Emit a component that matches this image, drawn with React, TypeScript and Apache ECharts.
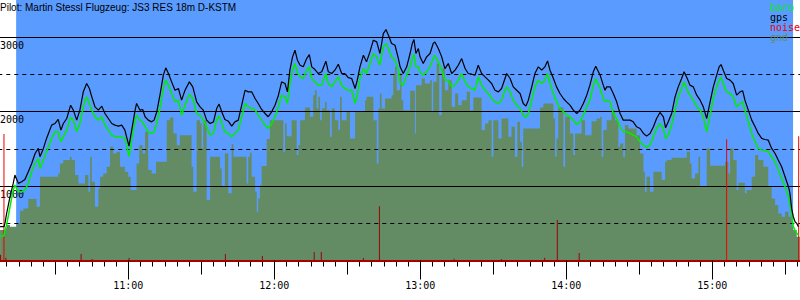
import React, { useEffect, useRef } from "react";
import * as echarts from "echarts";

// Title text
const titleText = "Pilot: Martin Stessl Flugzeug: JS3 RES 18m D-KSTM";

// Axis definition (minutes since midnight)
const axisStart = 600; // 10:00
const axisEnd = 960; // 16:00
const labelFirst = 660; // 11:00
const labelLast = 900; // 15:00
const plotStart = 613.9; // start of the blue plot background
const plotEnd = 933.2; // end of the blue plot background
const altMax = 3500;

// Flight track: time (minutes since midnight), GPS altitude, barometric altitude (m)
const flightTimes = [
  607.3, 608.9, 609.3, 610.0, 611.4, 612.7, 613.4, 614.8, 616.2, 617.5,
  618.9, 620.3, 621.7, 623.0, 623.7, 625.1, 626.4, 628.5, 629.9, 631.2,
  632.3, 633.3, 634.7, 636.3, 637.4, 638.8, 640.1, 641.5, 642.9, 644.0,
  645.0, 646.3, 647.7, 649.1, 650.4, 651.8, 653.2, 654.5, 655.9, 657.3,
  658.6, 659.3, 660.3, 661.4, 662.8, 663.4, 664.8, 665.9, 666.9, 668.2,
  669.6, 670.6, 671.7, 673.0, 674.4, 675.4, 676.5, 677.8, 679.2, 680.6,
  681.9, 683.3, 685.1, 686.5, 688.1,
  689.5, 690.8, 692.2, 693.6, 695.0, 696.3, 697.3, 698.4, 699.7, 701.1,
  702.5, 703.8, 705.2, 706.6, 708.0, 709.3, 710.7, 712.1, 713.4, 714.8,
  716.2, 717.5, 718.9, 720.3, 721.7, 723.0, 724.4, 725.4, 726.4, 727.5,
  728.5, 729.5, 730.6, 731.9, 733.3, 734.4, 735.4, 736.7, 738.1, 739.5,
  741.2, 742.2, 743.6, 744.9, 746.3, 747.7, 749.0, 750.4, 751.8, 753.2,
  754.1, 755.2, 756.6, 757.9, 759.3, 760.7, 762.1, 763.4, 764.8, 765.9,
  766.9, 768.2, 769.6, 771.0,
  771.7, 773.0, 774.4, 775.8, 776.7, 777.4, 778.2, 779.2, 779.9, 781.2,
  782.6, 784.0, 785.3, 786.0, 787.4, 788.8, 790.1, 791.5, 792.9, 794.3,
  795.6, 797.0, 798.4, 799.7, 801.1, 802.5, 803.8, 805.2, 806.6, 808.0,
  809.3, 810.7, 812.1, 813.4, 814.8, 815.5, 816.9, 818.2, 819.6, 821.0,
  822.3, 823.4, 824.4, 825.8, 827.1, 828.5, 829.9, 831.2, 832.3, 833.3,
  834.7, 836.0, 837.4, 838.8, 840.1, 841.5, 842.9, 844.3, 845.6, 847.0,
  848.4, 849.7, 851.1, 852.1,
  853.9, 855.2, 855.9, 856.6, 858.0, 859.3, 860.7, 862.1, 863.4, 864.8,
  866.2, 867.5, 868.9, 870.3, 871.7, 873.0, 874.4, 875.8, 877.1, 878.5,
  879.9, 880.8, 881.9, 883.3, 884.7, 886.0, 887.4, 888.4, 889.7, 890.8,
  892.2, 893.6, 895.0, 896.3, 897.7, 899.1, 900.4, 901.8, 902.8, 903.6,
  904.5, 905.9, 907.3, 908.6, 910.0, 911.4, 912.5, 913.4, 914.8, 916.2,
  917.6, 918.9, 920.3, 921.7, 923.0, 924.4, 925.8, 927.1, 928.5, 929.9,
  931.3, 931.9, 932.6, 933.3, 934.0, 934.7, 935.4,
];

const gpsAlt = [
  454, 454, 499, 633, 857, 1036, 1148, 1036, 1058, 1089,
  1192, 1304, 1438, 1506, 1394, 1506, 1640, 1819, 1841, 1895,
  1752, 1841, 1908, 2087, 2020, 1886, 2020, 2266, 2378, 2311,
  2199, 2065, 2020, 2074, 1975, 1908, 1841, 1819, 1805, 1819,
  1752, 1662, 1537, 1752, 2020, 2110, 2020, 2029, 1931, 1886,
  1863, 1886, 1998, 2221, 2490, 2588, 2512, 2400, 2288, 2311,
  2154, 2288, 2400, 2333, 2132,
  2065, 2020, 1886, 1841, 1863, 2042, 2101, 1998, 1895, 1872,
  1805, 1863, 1886, 2087, 2288, 2266, 2266, 2177, 2110, 2029,
  1975, 1931, 1998, 2087, 2221, 2400, 2378, 2266, 2557, 2736,
  2825, 2691, 2624, 2602, 2713, 2767, 2602, 2566, 2512, 2535,
  2678, 2535, 2512, 2557, 2637, 2512, 2512, 2458, 2445, 2311,
  2423, 2602, 2758, 2669, 2803, 2960, 2937, 2781, 3049, 3103,
  3027, 2915, 2892, 2713,
  2602, 2512, 2602, 2781, 2915, 2968, 2781, 2848, 2736, 2646,
  2736, 2781, 2915, 2937, 2848, 2736, 2579, 2646, 2512, 2557,
  2624, 2713, 2579, 2512, 2503, 2490, 2624, 2512, 2467, 2423,
  2378, 2288, 2266, 2311, 2445, 2512, 2445, 2333, 2288, 2244,
  2110, 2074, 2154, 2333, 2512, 2602, 2557, 2602, 2682, 2557,
  2445, 2333, 2244, 2177, 2132, 2087, 2020, 1975, 2020, 2110,
  2221, 2356, 2535, 2611,
  2490, 2356, 2288, 2333, 2333, 2244, 2132, 1975, 1886, 1886,
  1886, 1863, 1796, 1774, 1707, 1671, 1707, 1796, 1908, 1989,
  1931, 1783, 1863, 1975, 2199, 2333, 2445, 2535, 2445, 2356,
  2333, 2221, 2154, 2065, 1908, 2132, 2333, 2490, 2602, 2633,
  2557, 2445, 2423, 2378, 2221, 2266, 2280, 2154, 2020, 1886,
  1796, 1707, 1640, 1626, 1617, 1506, 1438, 1349, 1260, 1125,
  991, 902, 700, 588, 521, 499, 454,
];

const baroAlt = [
  329, 329, 400, 476, 723, 946, 1013, 924, 924, 946,
  1036, 1192, 1304, 1371, 1237, 1349, 1461, 1640, 1729, 1729,
  1595, 1662, 1752, 1922, 1886, 1729, 1841, 2065, 2199, 2110,
  2020, 1931, 1886, 1931, 1819, 1752, 1684, 1662, 1662, 1662,
  1640, 1550, 1394, 1617, 1886, 1953, 1886, 1863, 1796, 1729,
  1707, 1729, 1841, 2042, 2311, 2423, 2356, 2244, 2132, 2154,
  1953, 2087, 2235, 2177, 1975,
  1953, 1886, 1796, 1684, 1707, 1886, 1944, 1841, 1729, 1707,
  1662, 1707, 1752, 1931, 2110, 2065, 2042, 2020, 1953, 1886,
  1819, 1774, 1841, 1931, 2065, 2221, 2199, 2110, 2378, 2557,
  2646, 2521, 2467, 2445, 2557, 2602, 2445, 2400, 2356, 2356,
  2512, 2378, 2333, 2400, 2467, 2356, 2311, 2288, 2288, 2110,
  2221, 2445, 2579, 2512, 2646, 2781, 2736, 2624, 2870, 2915,
  2848, 2736, 2691, 2557,
  2378, 2356, 2490, 2602, 2713, 2772, 2602, 2602, 2535, 2490,
  2535, 2602, 2713, 2758, 2669, 2557, 2423, 2423, 2333, 2356,
  2423, 2512, 2400, 2333, 2311, 2288, 2467, 2356, 2288, 2244,
  2177, 2132, 2110, 2154, 2288, 2333, 2266, 2154, 2087, 2042,
  1953, 1922, 1975, 2154, 2333, 2423, 2378, 2423, 2512, 2378,
  2244, 2132, 2042, 1998, 1953, 1931, 1886, 1828, 1863, 1953,
  2065, 2154, 2356, 2445,
  2311, 2177, 2132, 2154, 2132, 1975, 1908, 1796, 1729, 1729,
  1707, 1684, 1662, 1595, 1550, 1519, 1550, 1662, 1774, 1841,
  1774, 1640, 1684, 1819, 2020, 2199, 2311, 2400, 2288, 2221,
  2154, 2065, 2020, 1931, 1729, 1953, 2177, 2333, 2423, 2458,
  2378, 2266, 2244, 2199, 2065, 2110, 2132, 2020, 1863, 1707,
  1595, 1506, 1483, 1474, 1461, 1394, 1327, 1215, 1103, 991,
  857, 745, 633, 454, 409, 365, 342,
];

// Ground elevation under the track (step profile): start time of each step, elevation (m)
const gndTimes = [
  607.3, 609.3, 610.0, 611.4, 614.1, 615.5, 616.9, 618.9, 622.3, 623.7,
  631.2, 631.9, 633.3, 636.0, 636.7, 638.1, 639.5, 642.2, 643.6, 644.3,
  645.0, 646.3, 647.7, 648.4, 649.7, 651.1, 652.5, 653.8, 655.2, 656.6,
  658.6, 660.0, 661.0, 663.4, 664.5, 665.9, 666.9, 668.2, 669.6, 671.4,
  675.8, 677.1, 678.5, 679.9, 681.2, 686.0, 686.7, 688.1,
  689.5, 690.1, 690.8, 692.2, 693.6, 697.7, 698.4, 699.7, 701.1, 702.5,
  703.2, 708.6, 709.3, 710.0, 710.7, 712.1, 712.8, 713.4, 714.1, 714.8,
  716.9, 718.2, 723.7, 724.4, 725.1, 727.1, 729.2, 729.9, 730.6, 732.6,
  734.7, 736.0, 736.7, 737.4, 738.1, 738.8, 739.5, 740.8, 741.5, 742.9,
  743.6, 744.9, 746.3, 747.0, 747.7, 749.7, 751.1, 753.2, 757.3, 757.9,
  760.7, 762.1, 762.8, 763.4, 764.1, 765.5, 768.2, 768.9, 769.6, 770.3,
  771.7, 772.3, 773.0, 775.8, 777.8, 778.2, 780.6, 781.9, 784.0, 784.7,
  785.3, 786.7, 787.8, 788.8, 790.1, 791.5, 792.9, 794.3, 795.6, 797.0,
  799.1, 800.4, 801.8, 805.2, 806.6, 808.0, 809.3, 810.0, 812.1, 813.4,
  816.2, 817.5, 818.9, 819.9, 821.0, 821.7, 822.3, 829.2, 830.6, 834.7,
  835.4, 836.0, 836.7, 838.8, 839.5, 841.5, 842.9, 843.6, 846.3, 847.7,
  850.4, 852.5,
  853.9, 854.5, 855.2, 856.6, 858.6, 860.0, 861.4, 862.1, 863.4, 864.1,
  865.5, 868.9, 870.3, 871.7, 872.3, 873.0, 874.4, 875.8, 879.2, 880.6,
  881.3, 883.3, 889.5, 890.8, 891.5, 892.9, 894.3, 895.0, 897.7, 899.1,
  905.2, 906.6, 907.3, 908.6, 910.0, 910.7, 913.4, 914.1, 916.2, 917.6,
  918.9, 921.0, 923.0, 924.4, 925.8, 927.1, 928.5, 929.9, 931.3, 932.6,
  933.3, 934.7, 936.0,
];

const gndAlt = [
  409, 432, 476, 454, 499, 669, 700, 825, 723, 1125,
  1170, 1304, 1349, 1394, 1349, 1148, 1036, 1148, 924, 1394,
  1058, 723, 969, 1125, 1170, 1260, 1528, 1438, 1461, 1260,
  1192, 1125, 946, 1304, 1550, 1438, 1729, 1215, 1170, 1327,
  1886, 1922, 1707, 1550, 1684, 1260, 924, 1886,
  1841, 1506, 1886, 812, 1394, 1237, 991, 1438, 902, 1564,
  1394, 1036, 1394, 1447, 1125, 924, 655, 834, 1013, 1268,
  1631, 1886, 1461, 1841, 1671, 1886, 1416, 1550, 1886, 2056,
  1931, 2221, 2288, 2042, 2199, 1886, 2042, 2132, 2020, 1662,
  2042, 1886, 1752, 2199, 1886, 1998, 1640, 1998, 2154, 2199,
  1886, 1304, 2042, 2244, 2042, 2177, 2221, 2512, 2602, 2288,
  2512, 2154, 2020, 2280, 1707, 2356, 2445, 2378, 2423, 1998,
  2400, 2646, 1953, 2579, 2288, 2423, 2065, 2244, 2087, 2154,
  2266, 2020, 2190, 1752, 1841, 1886, 1394, 1886, 1640, 1908,
  1662, 1796, 1394, 1863, 1595, 1260, 1774, 2056, 2110, 1908,
  1394, 1640, 2056, 1260, 1931, 1707, 1416, 1707, 1886, 1684,
  1872, 1908,
  1931, 1394, 1752, 1886, 2020, 1886, 1528, 1573, 1394, 1819,
  1774, 1684, 1438, 1192, 924, 1125, 924, 1192, 1080, 1327,
  1349, 1380, 1461, 1304, 1103, 1170, 1394, 991, 1506, 1273,
  1327, 1170, 1506, 1349, 946, 1045, 902, 946, 1125, 1416,
  1349, 1260, 991, 834, 745, 633, 588, 655, 588, 454,
  409, 320, 320,
];

// Engine noise level samples: time, level (drawn on the altitude scale)
const noiseTimes = [
  607.5, 608.9, 609.7, 640.6, 645.1, 660.3, 699.9, 715.1, 736.4, 739.3,
  756.6, 763.2, 793.9, 813.3, 831.1, 836.3, 845.3, 905.9, 935.5,
];
const noiseLevel = [
  78, 1700, 38, 87, 20, 33, 87, 60, 114, 114,
  33, 730, 25, 20, 38, 543, 100, 1630, 1670,
];

// Series styles
const COLORS = {
  baro: "#00ee00",
  gps: "#000000",
  noise: "#ee0000",
  noiseLow: "#a00000",
  gnd: "#648c64",
  sky: "#5a9bff",
  axis: "#a80000",
};

const MONO = "DejaVu Sans Mono";

function pairs(xs: number[], ys: number[]) {
  const n = Math.min(xs.length, ys.length);
  const out: number[][] = [];
  for (let i = 0; i < n; i++) out.push([xs[i], ys[i]]);
  return out;
}

function hhmm(v: number) {
  const h = Math.floor(v / 60);
  const m = Math.round(v - h * 60);
  return `${h}:${String(m).padStart(2, "0")}`;
}

export default function App() {
  const ref = useRef<HTMLDivElement>(null);

  useEffect(() => {
    if (!ref.current) return;
    const chart = echarts.init(ref.current, null, { renderer: "svg" });

    const option: any = {
      animation: false,
      backgroundColor: "#ffffff",
      title: {
        text: titleText,
        left: 0,
        top: 2,
        padding: 0,
        textStyle: {
          fontFamily: "Liberation Sans",
          fontSize: 10,
          fontWeight: "normal",
          color: "#000",
        },
      },
      legend: {
        orient: "vertical",
        left: 765,
        top: 2,
        padding: 0,
        itemGap: 0,
        itemWidth: 0,
        itemHeight: 10,
        icon: "none",
        selectedMode: false,
        textStyle: { fontFamily: MONO, fontSize: 10, lineHeight: 10 },
        data: [
          { name: "baro", textStyle: { color: COLORS.baro } },
          { name: "gps", textStyle: { color: COLORS.gps } },
          { name: "noise", textStyle: { color: COLORS.noise } },
          { name: "gnd", textStyle: { color: COLORS.gnd } },
        ],
      },
      grid: {
        left: -17.7,
        right: -58.3,
        top: 0,
        height: 260.5,
        outerBoundsMode: "none",
      },
      xAxis: [
        {
          type: "value",
          min: axisStart,
          max: axisEnd,
          interval: 60,
          position: "bottom",
          z: 8,
          axisLine: { show: true, onZero: false, lineStyle: { color: COLORS.axis, width: 2 } },
          axisTick: { show: true, length: 19, lineStyle: { color: "#000", width: 1 } },
          axisLabel: {
            show: true,
            margin: 20,
            fontFamily: MONO,
            fontSize: 10,
            color: "#000",
            formatter: (v: number) => (v >= labelFirst && v <= labelLast ? hhmm(v) : ""),
          },
          splitLine: { show: false },
        },
        {
          type: "value",
          min: axisStart,
          max: axisEnd,
          interval: 30,
          position: "bottom",
          z: 7,
          axisLine: { show: false, onZero: false },
          axisTick: { show: true, length: 14, lineStyle: { color: "#000", width: 1 } },
          minorTick: { show: true, splitNumber: 6, length: 6, lineStyle: { color: "#000", width: 1 } },
          axisLabel: { show: false },
          splitLine: { show: false },
        },
      ],
      yAxis: [
        {
          type: "value",
          min: 0,
          max: altMax,
          interval: 500,
          position: "left",
          z: 3,
          axisLine: { show: false },
          axisTick: { show: false },
          axisLabel: { show: false },
          splitLine: {
            show: true,
            showMinLine: false,
            showMaxLine: false,
            lineStyle: { color: "#000", width: 1, type: [4, 4] },
          },
        },
        {
          type: "value",
          min: 0,
          max: altMax,
          interval: 1000,
          position: "left",
          z: 3,
          axisLine: { show: false },
          axisTick: { show: false },
          axisLabel: {
            show: true,
            inside: true,
            margin: 17.7,
            align: "left",
            verticalAlign: "top",
            padding: [3, 0, 0, 0],
            fontFamily: MONO,
            fontSize: 10,
            color: "#000",
            formatter: (v: number) => (v > 0 && v <= 3000 && v % 1000 === 0 ? String(v) : ""),
          },
          splitLine: {
            show: true,
            showMinLine: false,
            showMaxLine: false,
            lineStyle: { color: "#000", width: 1 },
          },
        },
      ],
      series: [
        {
          name: "bg",
          type: "line",
          data: [],
          z: 1,
          silent: true,
          markArea: {
            silent: true,
            itemStyle: { color: COLORS.sky, opacity: 1 },
            data: [[{ xAxis: plotStart }, { xAxis: plotEnd }]],
          },
        },
        {
          name: "gnd",
          type: "line",
          step: "end",
          data: pairs(gndTimes, gndAlt),
          symbol: "none",
          showSymbol: false,
          lineStyle: { width: 0, color: COLORS.gnd },
          itemStyle: { color: COLORS.gnd },
          areaStyle: { color: COLORS.gnd, opacity: 1 },
          z: 2,
          silent: true,
        },
        {
          name: "noise",
          type: "bar",
          barWidth: 1,
          data: pairs(noiseTimes, noiseLevel),
          itemStyle: {
            color: (p: any) => (p.value[1] > 1000 ? COLORS.noise : COLORS.noiseLow),
          },
          z: 4,
          silent: true,
        },
        {
          name: "baro",
          type: "line",
          data: pairs(flightTimes, baroAlt),
          symbol: "none",
          showSymbol: false,
          lineStyle: { width: 1.5, color: COLORS.baro },
          itemStyle: { color: COLORS.baro },
          z: 5,
          silent: true,
        },
        {
          name: "gps",
          type: "line",
          data: pairs(flightTimes, gpsAlt),
          symbol: "none",
          showSymbol: false,
          lineStyle: { width: 1.2, color: COLORS.gps },
          itemStyle: { color: COLORS.gps },
          z: 6,
          silent: true,
        },
      ],
    };

    chart.setOption(option);
    return () => chart.dispose();
  }, []);

  return (
    <div
      ref={ref}
      style={{ position: "fixed", left: 0, top: 0, width: 800, height: 300 }}
    />
  );
}
